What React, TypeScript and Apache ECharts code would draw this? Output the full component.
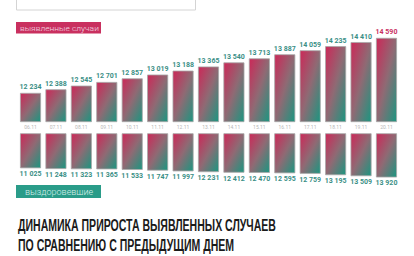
import React, { useEffect, useRef } from "react";
import * as echarts from "echarts";

const dates = ["06.11","07.11","08.11","09.11","10.11","11.11","12.11","13.11","14.11","15.11","16.11","17.11","18.11","19.11","20.11"];
const detected = [12234,12388,12545,12701,12857,13019,13188,13365,13540,13713,13887,14059,14235,14410,14590];
const recovered = [11025,11248,11323,11365,11533,11747,11997,12231,12412,12470,12595,12759,13195,13509,13920];

const PINK = "#c9305f";
const TEAL = "#2a9c89";
const LABEL_TEAL = "#3b8f86";

const fmt = (v: number) => String(v).replace(/\B(?=(\d{3})+(?!\d))/g, " ");

const grad = () =>
  new echarts.graphic.LinearGradient(0, 0, 1, 1, [
    { offset: 0, color: "#cc2858" },
    { offset: 0.5, color: "#8f6a74" },
    { offset: 1, color: "#1a9680" },
  ]);

export default function App() {
  const ref = useRef<HTMLDivElement>(null);
  useEffect(() => {
    if (!ref.current) return;
    const chart = echarts.init(ref.current, null, { renderer: "svg" });
    chart.setOption({
      animation: false,
      backgroundColor: "#ffffff",
      grid: [
        { left: 17.8, right: 14.8, top: 28.3, height: 93.4 },
        { left: 17.8, right: 14.8, top: 133.3, height: 47.6 },
      ],
      xAxis: [
        {
          type: "category", gridIndex: 0, data: dates,
          axisLine: { show: false }, axisTick: { show: false },
          axisLabel: { color: "#b8b8b8", fontSize: 5, margin: 3, fontFamily: "Roboto" },
        },
        {
          type: "category", gridIndex: 1, data: dates,
          axisLine: { show: false }, axisTick: { show: false }, axisLabel: { show: false },
        },
      ],
      yAxis: [
        { type: "value", gridIndex: 0, min: 11000, max: 15000, show: false, splitLine: { show: false } },
        { type: "value", gridIndex: 1, min: 0, max: 15000, inverse: true, show: false, splitLine: { show: false } },
      ],
      series: [
        {
          type: "bar", xAxisIndex: 0, yAxisIndex: 0, barWidth: 21,
          data: detected.map((v, i) => ({
            value: v,
            label: i === detected.length - 1 ? { color: PINK } : undefined,
          })),
          itemStyle: { color: grad(), borderColor: "#a8a8a8", borderWidth: 0.8 },
          label: {
            show: true, position: "top", distance: 2, fontSize: 7, fontWeight: "bold",
            color: LABEL_TEAL, fontFamily: "Roboto", formatter: (p: any) => fmt(p.value),
          },
        },
        {
          type: "bar", xAxisIndex: 1, yAxisIndex: 1, barWidth: 21,
          data: recovered,
          itemStyle: { color: grad(), borderColor: "#a8a8a8", borderWidth: 0.8 },
          label: {
            show: true, position: "bottom", distance: 2.5, fontSize: 7, fontWeight: "bold",
            color: LABEL_TEAL, fontFamily: "Roboto", formatter: (p: any) => fmt(p.value),
          },
        },
      ],
      graphic: [
        { type: "rect", shape: { x: 16.5, y: -5, width: 179, height: 15 }, style: { fill: "#fff", stroke: "#d4d4d4", lineWidth: 1 } },
        { type: "rect", shape: { x: 16, y: 22, width: 85, height: 11.5 }, style: { fill: PINK } },
        { type: "text", x: 20, y: 27.8, scaleX: 1.06, style: { text: "выявленные случаи", fill: "#f4dbe3", fontSize: 8, fontFamily: "Roboto", fontWeight: 300, textVerticalAlign: "middle" } },
        { type: "rect", shape: { x: 16, y: 185, width: 85, height: 13 }, style: { fill: TEAL } },
        { type: "text", x: 25, y: 191.5, style: { text: "выздоровевшие", fill: "#d9efeb", fontSize: 9, fontFamily: "Roboto", fontWeight: 300, textVerticalAlign: "middle" } },
        { type: "text", x: 18, y: 216, scaleX: 0.62, style: { text: "ДИНАМИКА ПРИРОСТА ВЫЯВЛЕННЫХ СЛУЧАЕВ", fill: "#1a1a1a", fontSize: 17, fontWeight: "bold", fontFamily: "Liberation Sans" } },
        { type: "text", x: 18, y: 236, scaleX: 0.62, style: { text: "ПО СРАВНЕНИЮ С ПРЕДЫДУЩИМ ДНЕМ", fill: "#1a1a1a", fontSize: 17, fontWeight: "bold", fontFamily: "Liberation Sans" } },
      ],
    });
    return () => chart.dispose();
  }, []);
  return <div ref={ref} style={{ position: "fixed", left: 0, top: 0, width: 414, height: 256 }} />;
}
